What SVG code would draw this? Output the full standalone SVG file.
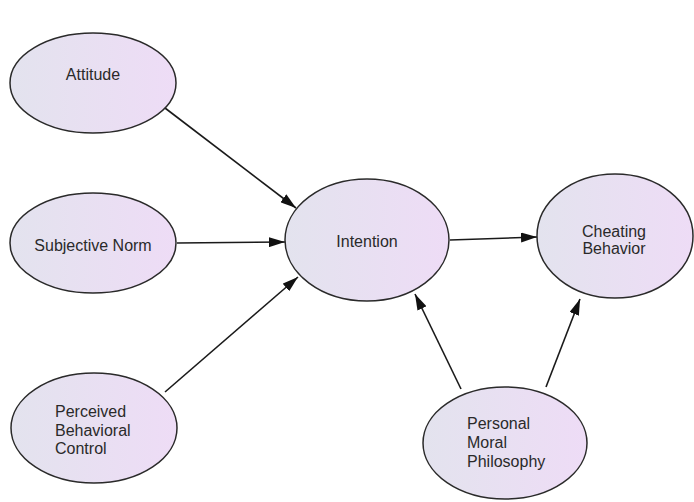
<svg xmlns="http://www.w3.org/2000/svg" width="694" height="502" viewBox="0 0 694 502">
<defs>
<linearGradient id="g" x1="0" y1="0" x2="1" y2="0">
<stop offset="0" stop-color="#e3e3ee"/>
<stop offset="1" stop-color="#eedcf6"/>
</linearGradient>
<marker id="arr" markerWidth="16" markerHeight="10" refX="16" refY="5" orient="auto" markerUnits="userSpaceOnUse">
<path d="M0,0 L16,5 L0,10 Z" fill="#111"/>
</marker>
<style>
.n ellipse{fill:url(#g);stroke:#2a2a2a;stroke-width:1.5}
.n text{font-family:"Liberation Sans",Arial,sans-serif;font-size:16px;fill:#2a2a2a}
.c line{stroke:#1a1a1a;stroke-width:1.6;marker-end:url(#arr)}
</style>
</defs>
<rect width="694" height="502" fill="#fff"/>
<g class="c" id="connectors">
<line x1="165" y1="108" x2="296" y2="208"/>
<line x1="177" y1="243" x2="285" y2="242"/>
<line x1="165" y1="392" x2="298" y2="277"/>
<line x1="450" y1="240" x2="537" y2="237"/>
<line x1="461" y1="389" x2="415" y2="294"/>
<line x1="546" y1="387" x2="580" y2="299"/>
</g>
<g class="n" id="attitude">
<ellipse cx="93" cy="83" rx="83" ry="50"/>
<text x="93" y="80" text-anchor="middle">Attitude</text>
</g>
<g class="n" id="subjective-norm">
<ellipse cx="93" cy="243" rx="83" ry="50"/>
<text x="93" y="251" text-anchor="middle">Subjective Norm</text>
</g>
<g class="n" id="perceived-behavioral-control">
<ellipse cx="94" cy="428" rx="83" ry="55"/>
<text x="55" y="417">Perceived</text>
<text x="55" y="436">Behavioral</text>
<text x="55" y="454">Control</text>
</g>
<g class="n" id="intention">
<ellipse cx="367" cy="240" rx="82" ry="61"/>
<text x="367" y="247" text-anchor="middle">Intention</text>
</g>
<g class="n" id="cheating-behavior">
<ellipse cx="615" cy="236" rx="78" ry="62"/>
<text x="614" y="237" text-anchor="middle">Cheating</text>
<text x="614" y="254" text-anchor="middle">Behavior</text>
</g>
<g class="n" id="personal-moral-philosophy">
<ellipse cx="505" cy="443" rx="82" ry="56"/>
<text x="467" y="429">Personal</text>
<text x="467" y="448">Moral</text>
<text x="467" y="467">Philosophy</text>
</g>
</svg>
